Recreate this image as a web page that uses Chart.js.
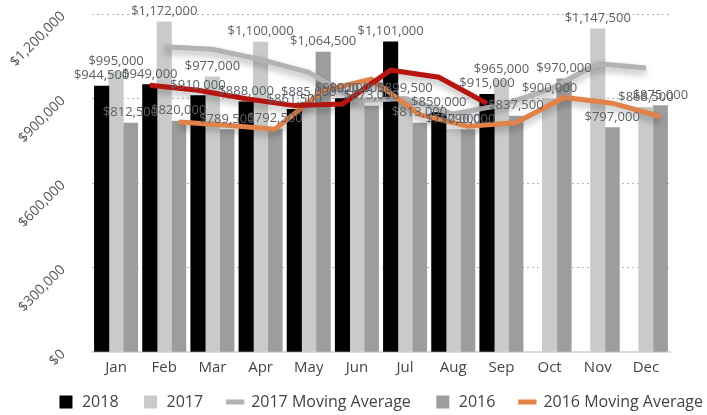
<!DOCTYPE html>
<html>
<head>
<meta charset="utf-8">
<script src="https://cdn.jsdelivr.net/npm/chart.js@4/dist/chart.umd.min.js"></script>
<style>
  html, body { margin: 0; padding: 0; background: #fff; }
  #wrap { width: 707px; height: 415px; position: relative; }
</style>
</head>
<body>
<div id="wrap"><canvas id="salesChart"></canvas></div>
<script>
const months = ['Jan', 'Feb', 'Mar', 'Apr', 'May', 'Jun', 'Jul', 'Aug', 'Sep', 'Oct', 'Nov', 'Dec'];

const sales2018 = [944500, 949000, 910000, 888000, 861500, 900000, 1101000, 850000, 915000, null, null, null];
const sales2017 = [995000, 1172000, 977000, 1100000, 885000, 900000, 899500, 790000, 965000, 900000, 1147500, 868500];
const sales2016 = [812500, 820000, 789500, 792500, 1064500, 873000, 813000, 790000, 837500, 970000, 797000, 875000];

// moving averages
const avg2018 = [null, 946750, 929500, 899000, 874750, 880750, 1000500, 975500, 882500, null, null, null];
const avg2017 = [null, 1083500, 1074500, 1038500, 992500, 892500, 899750, 844750, 877500, 932500, 1023750, 1008000];
const avg2016 = [null, 816250, 804750, 791000, 928500, 968750, 843000, 801500, 813750, 903750, 883500, 836000];

const yTicks = [0, 300000, 600000, 900000, 1200000];

const FONT = "'Open Sans', Lato, sans-serif";
const money = v => '$' + v.toLocaleString('en-US');

// three slots per month: 2018 left, 2017 middle, 2016 right
const SLOT = 0.3;
function toPoints(arr, slot) {
    return arr.map((v, i) => ({x: i + slot * SLOT, y: v}));
}

const lineShadow = {
    id: 'lineShadow',
    beforeDatasetDraw(chart, args) {
        if (args.meta.type !== 'line') return;
        const ctx = chart.ctx;
        ctx.save();
        ctx.shadowColor = 'rgba(0,0,0,0.3)';
        ctx.shadowBlur = 7;
        ctx.shadowOffsetY = 4;
    },
    afterDatasetDraw(chart, args) {
        if (args.meta.type !== 'line') return;
        chart.ctx.restore();
    }
};

const barLabels = {
    id: 'barLabels',
    afterDatasetsDraw(chart) {
        const ctx = chart.ctx;
        ctx.save();
        ctx.font = '13px ' + FONT;
        ctx.fillStyle = '#5d6167';
        ctx.textAlign = 'center';
        ctx.textBaseline = 'bottom';
        chart.data.datasets.forEach((ds, i) => {
            if (ds.type !== 'bar') return;
            const meta = chart.getDatasetMeta(i);
            meta.data.forEach((bar, j) => {
                const v = ds.data[j].y;
                if (v == null) return;
                ctx.fillText(money(v), bar.x, bar.y - 4);
            });
        });
        ctx.restore();
    }
};

// legend in the reference sits right of centre and close under the month names
const legendShift = {
    id: 'legendShift',
    afterLayout(chart) {
        const lg = chart.legend;
        lg.left += 25;
        lg.right += 25;
        lg.top -= 10;
        lg.bottom -= 10;
    }
};

new Chart('salesChart', {
    data: {
        labels: months,
        datasets: [
            { type: 'bar', label: '2018', data: toPoints(sales2018, -1), backgroundColor: '#000000', order: 10 },
            { type: 'bar', label: '2017', data: toPoints(sales2017, 0), backgroundColor: '#c9cbc8', order: 10 },
            { type: 'line', label: '2017 Moving Average', data: toPoints(avg2017, 0),
              borderColor: '#b3b3b3', borderWidth: 5, pointRadius: 0, tension: 0, order: 3 },
            { type: 'bar', label: '2016', data: toPoints(sales2016, 1), backgroundColor: '#9d9d9d', order: 10 },
            { type: 'line', label: '2016 Moving Average', data: toPoints(avg2016, 1),
              borderColor: '#e0824a', borderWidth: 5, pointRadius: 0, tension: 0, order: 2 },
            { type: 'line', label: '2018 Moving Average', data: toPoints(avg2018, -1),
              borderColor: '#b5140f', borderWidth: 5, pointRadius: 0, tension: 0, order: 1 }
        ]
    },
    options: {
        responsive: true,
        maintainAspectRatio: false,
        animation: false,
        datasets: { bar: { grouped: false, categoryPercentage: 1, barPercentage: 1 } },
        layout: { padding: { top: 14, right: 0, left: 4, bottom: -15 } },
        plugins: {
            tooltip: { enabled: false },
            legend: {
                position: 'bottom',
                labels: {
                    usePointStyle: true,
                    boxHeight: 13,
                    padding: 24,
                    color: '#444',
                    font: { family: FONT, size: 16 },
                    filter: item => item.text !== '2018 Moving Average',
                    sort: (a, b) => a.datasetIndex - b.datasetIndex,
                    generateLabels(chart) {
                        const items = Chart.defaults.plugins.legend.labels.generateLabels(chart);
                        items.forEach(item => {
                            const ds = chart.data.datasets[item.datasetIndex];
                            if (ds.type === 'line') {
                                item.pointStyle = 'line';
                                item.strokeStyle = ds.borderColor;
                                item.lineWidth = 5;
                            } else {
                                item.pointStyle = 'rect';
                                item.lineWidth = 0;
                                item.strokeStyle = 'rgba(0,0,0,0)';
                            }
                        });
                        return items;
                    }
                }
            }
        },
        scales: {
            x: {
                type: 'linear',
                display: false,
                offset: false,
                min: -0.5,
                max: 11.5
            },
            months: {
                type: 'category',
                position: 'bottom',
                labels: months,
                offset: true,
                grid: { display: false, drawTicks: false },
                border: { display: true, color: '#dcdcdc', width: 2 },
                ticks: { color: '#444', font: { family: FONT, size: 15 }, padding: 7 },
                afterFit: axis => { axis.height = 28; }
            },
            y: {
                min: 0,
                max: 1200000,
                afterBuildTicks: axis => { axis.ticks = yTicks.map(v => ({value: v})); },
                afterFit: axis => { axis.width = 88; axis.paddingTop = 0; axis.paddingBottom = 0; },
                grid: {
                    drawTicks: false,
                    color: c => c.tick && c.tick.value === 0 ? 'rgba(0,0,0,0)' : '#b5b5b5'
                },
                border: { display: false, dash: [2, 3] },
                ticks: {
                    callback: v => money(v),
                    minRotation: 45,
                    maxRotation: 45,
                    padding: 29,
                    color: '#555',
                    font: { family: FONT, size: 14 }
                }
            },
            rightGap: {
                type: 'linear',
                position: 'right',
                grid: { display: false, drawTicks: false },
                border: { display: false },
                ticks: { display: false },
                afterFit: axis => { axis.width = 37; }
            }
        }
    },
    plugins: [lineShadow, barLabels, legendShift]
});
</script>
</body>
</html>
